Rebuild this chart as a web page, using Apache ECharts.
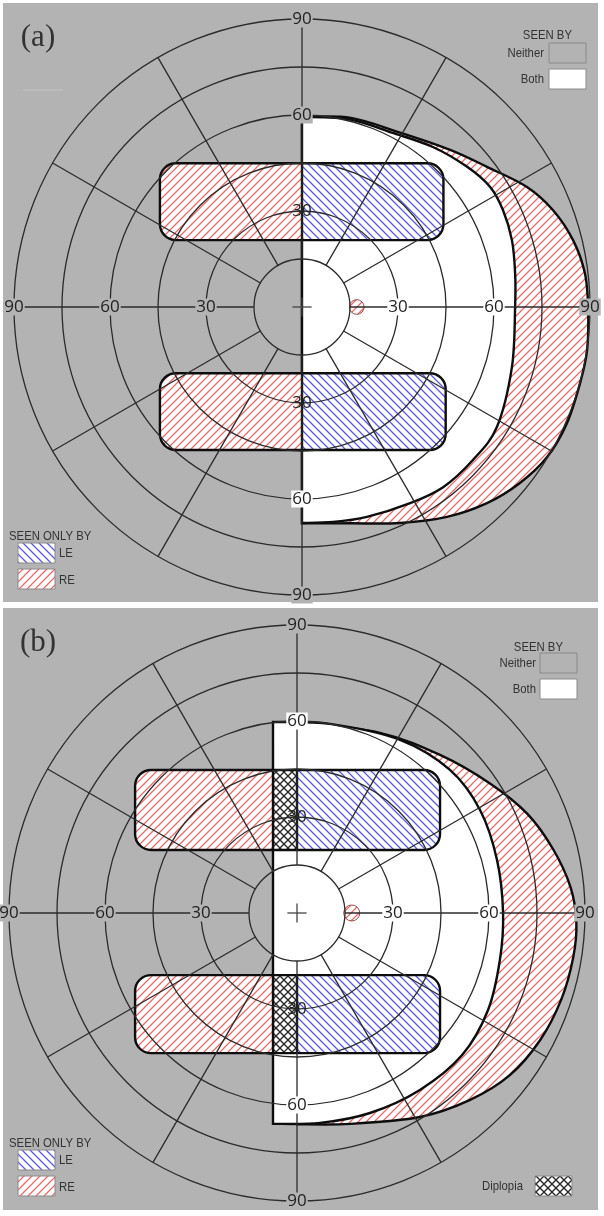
<!DOCTYPE html>
<html><head><meta charset="utf-8">
<script src="https://cdn.jsdelivr.net/npm/echarts@6/dist/echarts.min.js"></script>
<style>html,body{margin:0;padding:0;background:#fff;}#c{width:604px;height:1216px;}</style>
</head><body><div id="c"></div>
<script>
// ---------- data (degrees of visual field) ----------
const ringDegrees = [15, 30, 45, 60, 75, 90];
const spokeAngles = [0, 30, 60, 90, 120, 150, 180, 210, 240, 270, 300, 330];
const tickValues = [30, 60, 90];
const tickLabels = ['30', '60', '90'];
const crossHalf = [3];

// Panel (a)
const aBothEdge = [[0,59.4],[15,58.6],[28.4,54.4],[40.9,50],[51.6,43.8],[58.8,37.5],[62.8,30.3],[65.6,20.9],[66.6,10.6],[66.6,0],[65.6,-18.8],[60.9,-37.5],[53.4,-47.8],[44.1,-56.3],[33.8,-61.3],[20.3,-65.6],[9.7,-67.2],[0,-67.5]];
const aReOuterEdge = [[0,59.4],[15.3,59.1],[30.9,54.4],[46.3,49.1],[57.8,43.8],[70.3,37.5],[78.4,30.3],[84.7,20.9],[88.4,10.6],[89.4,0],[89.1,-13.4],[86.9,-23.8],[82.8,-36.3],[76.6,-46.9],[68.1,-55],[57.8,-61.3],[45.3,-65.6],[30.6,-67.5],[15,-67.6],[0,-67.6]];
const aBands = [[-44.4, 44.2, 20.9, 44.9], [-44.4, 44.9, -44.7, -20.7]]; // [left, right, bottom, top]
const aSplit = [0, 0];          // RE-only ends / LE-only starts
const aBlindSpot = [17.1, 0, 2.3];

// Panel (b)
const bBothEdge = [[-7.5,59.7],[10.3,59.1],[32.2,54.1],[47.8,44.7],[57.2,32.2],[62.5,16.6],[64.4,0],[63.4,-14.7],[59.7,-30.3],[51.6,-44.4],[38.4,-55.3],[22.8,-62.5],[7.2,-65.6],[-7.5,-65.9]];
const bReOuterEdge = [[0,59.7],[25.9,56.3],[44.7,49.4],[60.3,40.5],[72,31],[80,20],[85.5,8],[87.3,-3],[86.3,-14],[82.6,-27],[76,-39.7],[66.6,-50.6],[54.1,-58.4],[38.4,-63.75],[16.6,-65.9],[0,-66]];
const bBands = [[-50.6, 44.7, 19.7, 44.7], [-50.6, 44.7, -43.8, -19.4]];
const bSplit = [-7.5, 0];
const bBlindSpot = [17.1, 0, 2.5];

// ---------- styles ----------
const GRAY = '#b3b3b3';
const GRID_LINE = '#2b2b2b';
const THICK = '#0d0d0d';
const BAND_CORNER = 5;

function makeHatch(color, dirs, n, lw) {
  const c = document.createElement('canvas');
  c.width = c.height = n;
  const g = c.getContext('2d');
  g.fillStyle = '#ffffff'; g.fillRect(0, 0, n, n);
  g.strokeStyle = color; g.lineWidth = lw; g.lineCap = 'square';
  dirs.forEach(d => {
    g.beginPath();
    for (let k = -1; k <= 1; k++) {
      if (d === '/') { g.moveTo(k * n - 1, n + 1); g.lineTo(k * n + n + 1, -1); }
      else { g.moveTo(k * n - 1, -1); g.lineTo(k * n + n + 1, n + 1); }
    }
    g.stroke();
  });
  return { image: c, repeat: 'repeat' };
}
const RED_FILL = makeHatch('#e66a6a', ['/'], 8, 1.3);
const BLUE_FILL = makeHatch('#5a5ae2', ['\\'], 8, 1.3);
const CROSS_FILL = makeHatch('#2a2a2a', ['/', '\\'], 8, 1.4);

function curvePath(pts) {
  const f = v => v[0].toFixed(2) + ',' + v[1].toFixed(2);
  let d = 'M' + f(pts[0]);
  for (let i = 0; i < pts.length - 1; i++) {
    const p0 = pts[Math.max(i - 1, 0)], p1 = pts[i], p2 = pts[i + 1], p3 = pts[Math.min(i + 2, pts.length - 1)];
    const c1 = [p1[0] + (p2[0] - p0[0]) / 6, p1[1] + (p2[1] - p0[1]) / 6];
    const c2 = [p2[0] - (p3[0] - p1[0]) / 6, p2[1] - (p3[1] - p1[1]) / 6];
    d += 'C' + f(c1) + ' ' + f(c2) + ' ' + f(p2);
  }
  return d;
}

const panels = [
  { grid: { left: 14, top: 19, width: 576, height: 576 }, both: aBothEdge, re: aReOuterEdge, bands: aBands, split: aSplit, blind: aBlindSpot,
    whiteLabels: ['30,0', '60,0', '0,-60'], clearLabels: ['0,30', '0,-30'] },
  { grid: { left: 9, top: 625, width: 576, height: 576 }, both: bBothEdge, re: bReOuterEdge, bands: bBands, split: bSplit, blind: bBlindSpot,
    whiteLabels: ['30,0', '60,0', '0,-60', '0,60'], clearLabels: ['0,30', '0,-30'] }
];

const series = [];
panels.forEach((P, p) => {
  const base = { type: 'custom', coordinateSystem: 'cartesian2d', xAxisIndex: p, yAxisIndex: p, silent: true, animation: false, clip: false };
  const one = [[0, 0]];
  series.push(Object.assign({}, base, { z: 2, data: one, renderItem: (params, api) => ({
    type: 'path', shape: { pathData: curvePath(P.re.map(v => api.coord(v))) + 'Z' },
    style: { fill: RED_FILL, stroke: THICK, lineWidth: 2.4 } }) }));
  series.push(Object.assign({}, base, { z: 3, data: one, renderItem: (params, api) => ({
    type: 'path', shape: { pathData: curvePath(P.both.map(v => api.coord(v))) + 'Z' },
    style: { fill: '#ffffff', stroke: THICK, lineWidth: 2.4 } }) }));
  series.push(Object.assign({}, base, { z: 4, data: P.bands.map(b => [b[0], b[2]]), renderItem: (params, api) => {
    const b = P.bands[params.dataIndex];
    const tl = api.coord([b[0], b[3]]), br = api.coord([b[1], b[2]]);
    const s0 = api.coord([P.split[0], 0])[0], s1 = api.coord([P.split[1], 0])[0];
    const r = api.size([BAND_CORNER, 0])[0];
    const x0 = tl[0], y0 = tl[1], x1 = br[0], y1 = br[1], h = y1 - y0;
    const ch = [
      { type: 'rect', shape: { x: x0, y: y0, width: s0 - x0, height: h, r: [r, 0, 0, r] }, style: { fill: RED_FILL } },
      { type: 'rect', shape: { x: s1, y: y0, width: x1 - s1, height: h, r: [0, r, r, 0] }, style: { fill: BLUE_FILL } }
    ];
    if (s1 - s0 > 0.5) ch.push({ type: 'rect', shape: { x: s0, y: y0, width: s1 - s0, height: h }, style: { fill: CROSS_FILL } });
    ch.push({ type: 'rect', shape: { x: x0, y: y0, width: x1 - x0, height: h, r: r }, style: { fill: 'none', stroke: THICK, lineWidth: 2.4 } });
    ch.push({ type: 'line', shape: { x1: s0, y1: y0, x2: s0, y2: y1 }, style: { stroke: THICK, lineWidth: 2.4 } });
    if (s1 - s0 > 0.5) ch.push({ type: 'line', shape: { x1: s1, y1: y0, x2: s1, y2: y1 }, style: { stroke: THICK, lineWidth: 2.4 } });
    return { type: 'group', children: ch };
  } }));
  series.push(Object.assign({}, base, { z: 5, data: [[P.blind[0], P.blind[1]]], renderItem: (params, api) => {
    const c = api.coord([P.blind[0], P.blind[1]]);
    return { type: 'circle', shape: { cx: c[0], cy: c[1], r: api.size([P.blind[2], 0])[0] }, style: { fill: RED_FILL, stroke: '#9a4a4a', lineWidth: 1 } };
  } }));
  series.push(Object.assign({}, base, { z: 6, data: ringDegrees.map(r => [0, r]), renderItem: (params, api) => {
    const c = api.coord([0, 0]);
    return { type: 'circle', shape: { cx: c[0], cy: c[1], r: api.size([ringDegrees[params.dataIndex], 0])[0] }, style: { fill: 'none', stroke: GRID_LINE, lineWidth: 1.3 } };
  } }));
  series.push(Object.assign({}, base, { z: 6, data: spokeAngles.map(a => [0, 0]), renderItem: (params, api) => {
    const a = spokeAngles[params.dataIndex] * Math.PI / 180;
    const r0 = ringDegrees[0], r1 = ringDegrees[ringDegrees.length - 1];
    const p0 = api.coord([r0 * Math.cos(a), r0 * Math.sin(a)]), p1 = api.coord([r1 * Math.cos(a), r1 * Math.sin(a)]);
    return { type: 'line', shape: { x1: p0[0], y1: p0[1], x2: p1[0], y2: p1[1] }, style: { stroke: GRID_LINE, lineWidth: 1.3 } };
  } }));
  series.push(Object.assign({}, base, { z: 6, data: one, renderItem: (params, api) => {
    const h = crossHalf[0];
    const a = api.coord([-h, 0]), b = api.coord([h, 0]), c = api.coord([0, -h]), d = api.coord([0, h]);
    return { type: 'group', children: [
      { type: 'line', shape: { x1: a[0], y1: a[1], x2: b[0], y2: b[1] }, style: { stroke: '#444', lineWidth: 1.3 } },
      { type: 'line', shape: { x1: c[0], y1: c[1], x2: d[0], y2: d[1] }, style: { stroke: '#444', lineWidth: 1.3 } } ] };
  } }));
  const labs = [];
  [0, 90, 180, 270].forEach(dir => tickValues.forEach((v, i) => {
    const a = dir * Math.PI / 180;
    labs.push([Math.round(v * Math.cos(a)), Math.round(v * Math.sin(a)), tickLabels[i]]);
  }));
  series.push(Object.assign({}, base, { z: 8, data: labs.map(l => [l[0], l[1]]), renderItem: (params, api) => {
    const l = labs[params.dataIndex];
    const c = api.coord([l[0], l[1]]);
    const key = l[0] + ',' + l[1];
    let bg = GRAY;
    if (P.whiteLabels.indexOf(key) >= 0) bg = '#ffffff';
    if (P.clearLabels.indexOf(key) >= 0) bg = 'transparent';
    return { type: 'text', x: c[0], y: c[1], style: { text: l[2], font: '17px "Open Sans"', fill: '#222', align: 'center', verticalAlign: 'middle', backgroundColor: bg, padding: [0, 1] } };
  } }));
});

// ---------- legends / frames (graphic) ----------
const LEG_FONT = '13.5px "Liberation Sans"';
const g = [];
function txt(x, y, s, align, font, sx) { g.push({ type: 'text', x: x, y: y, scaleX: sx || 0.84, z: 100, style: { text: s, font: font || LEG_FONT, fill: '#333', align: align, verticalAlign: 'middle' } }); }
function box(x, y, fill, stroke) { g.push({ type: 'rect', z: 100, shape: { x: x, y: y, width: 37, height: 20 }, style: { fill: fill, stroke: stroke || '#8a8a8a', lineWidth: 1 } }); }
g.push({ type: 'rect', z: -100, shape: { x: 3, y: 3, width: 595, height: 599 }, style: { fill: GRAY } });
g.push({ type: 'rect', z: -100, shape: { x: 3, y: 608, width: 595, height: 602 }, style: { fill: GRAY } });
g.push({ type: 'line', z: -90, shape: { x1: 23, y1: 90, x2: 63, y2: 90 }, style: { stroke: '#c4c4c4', lineWidth: 1 } });
txt(38, 38, '(a)', 'center', '31px "Liberation Serif"', 1);
txt(38, 643, '(b)', 'center', '31px "Liberation Serif"', 1);
txt(572, 35, 'SEEN BY', 'right');
txt(544, 53, 'Neither', 'right'); box(549, 43, GRAY);
txt(544, 79, 'Both', 'right'); box(549, 69, '#ffffff');
txt(9, 536, 'SEEN ONLY BY', 'left');
box(18, 543, BLUE_FILL); txt(59, 553, 'LE', 'left');
box(18, 569, RED_FILL); txt(59, 580, 'RE', 'left');
txt(563, 647, 'SEEN BY', 'right');
txt(536, 663, 'Neither', 'right'); box(540, 653, GRAY);
txt(536, 689, 'Both', 'right'); box(540, 679, '#ffffff');
txt(9, 1143, 'SEEN ONLY BY', 'left');
box(18, 1150, BLUE_FILL); txt(59, 1160, 'LE', 'left');
box(18, 1176, RED_FILL); txt(59, 1187, 'RE', 'left');
txt(523, 1186, 'Diplopia', 'right'); box(535, 1176, CROSS_FILL);

const chart = echarts.init(document.getElementById('c'), null, { renderer: 'canvas' });
chart.setOption({
  animation: false,
  backgroundColor: '#ffffff',
  grid: panels.map(P => P.grid),
  xAxis: panels.map((P, i) => ({ type: 'value', gridIndex: i, min: -90, max: 90, show: false })),
  yAxis: panels.map((P, i) => ({ type: 'value', gridIndex: i, min: -90, max: 90, show: false })),
  graphic: { elements: g },
  series: series
});
</script></body></html>
